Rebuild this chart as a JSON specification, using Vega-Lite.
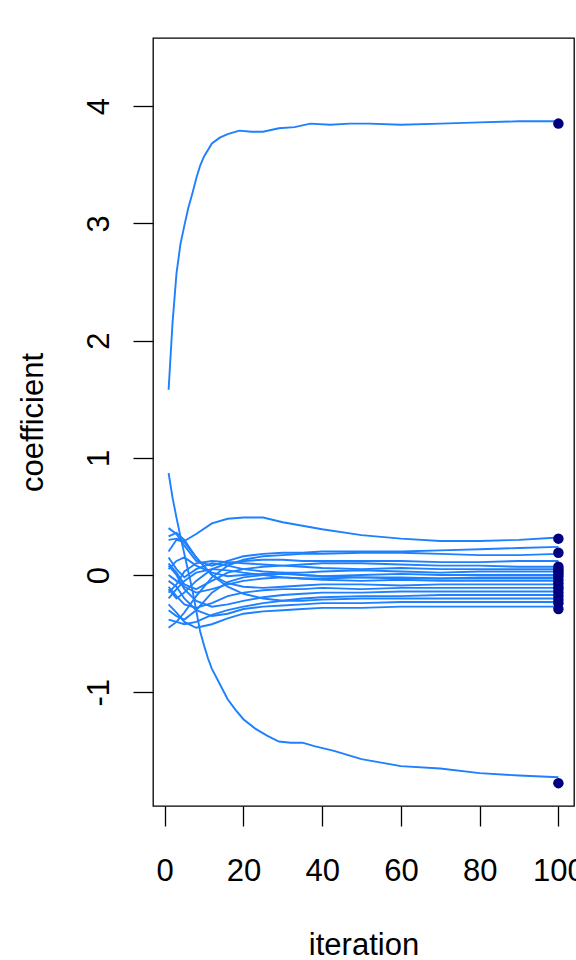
{
  "$schema": "https://vega.github.io/schema/vega-lite/v6.json",
  "autosize": {"type": "none"},
  "width": 421,
  "height": 768,
  "padding": {"left": 153, "top": 38, "right": 2, "bottom": 154},
  "background": "white",
  "config": {
    "view": {"stroke": "black", "strokeWidth": 1.3},
    "axis": {"domain": false, "grid": false, "tickColor": "black", "tickWidth": 1.3, "tickSize": 20,
      "labelFont": "Liberation Sans", "labelFontSize": 31, "labelColor": "black",
      "titleFont": "Liberation Sans", "titleFontSize": 31, "titleFontWeight": "normal", "titleColor": "black",
      "labelOverlap": false, "labelBound": false, "labelFlush": false}
  },
  "datasets": {
    "paths": [
      {"s":"A","x":1,"y":1.58},{"s":"A","x":2,"y":2.15},{"s":"A","x":3,"y":2.57},{"s":"A","x":4,"y":2.82},{"s":"A","x":5,"y":2.98},{"s":"A","x":6,"y":3.13},{"s":"A","x":7,"y":3.25},{"s":"A","x":8,"y":3.38},{"s":"A","x":9,"y":3.49},{"s":"A","x":10,"y":3.57},{"s":"A","x":12,"y":3.68},{"s":"A","x":14,"y":3.73},{"s":"A","x":16,"y":3.76},{"s":"A","x":19,"y":3.79},{"s":"A","x":22,"y":3.78},{"s":"A","x":25,"y":3.78},{"s":"A","x":29,"y":3.81},{"s":"A","x":33,"y":3.82},{"s":"A","x":37,"y":3.85},{"s":"A","x":42,"y":3.84},{"s":"A","x":47,"y":3.85},{"s":"A","x":52,"y":3.85},{"s":"A","x":60,"y":3.84},{"s":"A","x":70,"y":3.85},{"s":"A","x":80,"y":3.86},{"s":"A","x":90,"y":3.87},{"s":"A","x":100,"y":3.87},
      {"s":"B","x":1,"y":0.87},{"s":"B","x":2,"y":0.66},{"s":"B","x":3,"y":0.49},{"s":"B","x":4,"y":0.33},{"s":"B","x":5,"y":0.18},{"s":"B","x":6,"y":0.03},{"s":"B","x":7,"y":-0.12},{"s":"B","x":8,"y":-0.3},{"s":"B","x":9,"y":-0.48},{"s":"B","x":10,"y":-0.6},{"s":"B","x":11,"y":-0.71},{"s":"B","x":12,"y":-0.8},{"s":"B","x":14,"y":-0.93},{"s":"B","x":16,"y":-1.06},{"s":"B","x":18,"y":-1.15},{"s":"B","x":20,"y":-1.23},{"s":"B","x":23,"y":-1.31},{"s":"B","x":26,"y":-1.37},{"s":"B","x":29,"y":-1.42},{"s":"B","x":32,"y":-1.43},{"s":"B","x":35,"y":-1.43},{"s":"B","x":38,"y":-1.46},{"s":"B","x":43,"y":-1.5},{"s":"B","x":50,"y":-1.57},{"s":"B","x":55,"y":-1.6},{"s":"B","x":60,"y":-1.63},{"s":"B","x":70,"y":-1.65},{"s":"B","x":80,"y":-1.69},{"s":"B","x":90,"y":-1.71},{"s":"B","x":100,"y":-1.725},
      {"s":"C","x":1,"y":0.3},{"s":"C","x":3,"y":0.31},{"s":"C","x":5,"y":0.29},{"s":"C","x":8,"y":0.35},{"s":"C","x":12,"y":0.44},{"s":"C","x":16,"y":0.48},{"s":"C","x":20,"y":0.49},{"s":"C","x":25,"y":0.49},{"s":"C","x":30,"y":0.45},{"s":"C","x":35,"y":0.42},{"s":"C","x":40,"y":0.39},{"s":"C","x":50,"y":0.34},{"s":"C","x":60,"y":0.31},{"s":"C","x":70,"y":0.29},{"s":"C","x":80,"y":0.29},{"s":"C","x":90,"y":0.3},{"s":"C","x":100,"y":0.32},
      {"s":"D","x":1,"y":0.4},{"s":"D","x":3,"y":0.35},{"s":"D","x":5,"y":0.25},{"s":"D","x":8,"y":0.12},{"s":"D","x":12,"y":0.08},{"s":"D","x":16,"y":0.12},{"s":"D","x":20,"y":0.16},{"s":"D","x":25,"y":0.18},{"s":"D","x":30,"y":0.19},{"s":"D","x":35,"y":0.19},{"s":"D","x":40,"y":0.2},{"s":"D","x":50,"y":0.2},{"s":"D","x":60,"y":0.2},{"s":"D","x":70,"y":0.21},{"s":"D","x":80,"y":0.22},{"s":"D","x":90,"y":0.23},{"s":"D","x":100,"y":0.24},
      {"s":"E","x":1,"y":-0.45},{"s":"E","x":3,"y":-0.4},{"s":"E","x":5,"y":-0.32},{"s":"E","x":8,"y":-0.18},{"s":"E","x":12,"y":-0.02},{"s":"E","x":16,"y":0.08},{"s":"E","x":20,"y":0.13},{"s":"E","x":25,"y":0.16},{"s":"E","x":30,"y":0.17},{"s":"E","x":35,"y":0.18},{"s":"E","x":40,"y":0.18},{"s":"E","x":50,"y":0.19},{"s":"E","x":60,"y":0.19},{"s":"E","x":70,"y":0.18},{"s":"E","x":80,"y":0.17},{"s":"E","x":90,"y":0.17},{"s":"E","x":100,"y":0.18},
      {"s":"F","x":1,"y":0.1},{"s":"F","x":3,"y":0.02},{"s":"F","x":5,"y":-0.08},{"s":"F","x":8,"y":-0.12},{"s":"F","x":12,"y":-0.05},{"s":"F","x":16,"y":0.02},{"s":"F","x":20,"y":0.05},{"s":"F","x":25,"y":0.07},{"s":"F","x":30,"y":0.08},{"s":"F","x":35,"y":0.09},{"s":"F","x":40,"y":0.1},{"s":"F","x":50,"y":0.1},{"s":"F","x":60,"y":0.09},{"s":"F","x":70,"y":0.08},{"s":"F","x":80,"y":0.08},{"s":"F","x":90,"y":0.07},{"s":"F","x":100,"y":0.07},
      {"s":"G","x":1,"y":-0.15},{"s":"G","x":3,"y":-0.08},{"s":"G","x":5,"y":0.03},{"s":"G","x":8,"y":0.1},{"s":"G","x":12,"y":0.12},{"s":"G","x":16,"y":0.11},{"s":"G","x":20,"y":0.1},{"s":"G","x":25,"y":0.09},{"s":"G","x":30,"y":0.08},{"s":"G","x":35,"y":0.07},{"s":"G","x":40,"y":0.06},{"s":"G","x":50,"y":0.05},{"s":"G","x":60,"y":0.06},{"s":"G","x":70,"y":0.05},{"s":"G","x":80,"y":0.05},{"s":"G","x":90,"y":0.05},{"s":"G","x":100,"y":0.05},
      {"s":"H","x":1,"y":0.05},{"s":"H","x":3,"y":0.12},{"s":"H","x":5,"y":0.15},{"s":"H","x":8,"y":0.08},{"s":"H","x":12,"y":0.02},{"s":"H","x":16,"y":-0.01},{"s":"H","x":20,"y":0.0},{"s":"H","x":25,"y":0.01},{"s":"H","x":30,"y":0.02},{"s":"H","x":35,"y":0.02},{"s":"H","x":40,"y":0.03},{"s":"H","x":50,"y":0.04},{"s":"H","x":60,"y":0.03},{"s":"H","x":70,"y":0.02},{"s":"H","x":80,"y":0.03},{"s":"H","x":90,"y":0.03},{"s":"H","x":100,"y":0.03},
      {"s":"I","x":1,"y":-0.3},{"s":"I","x":3,"y":-0.35},{"s":"I","x":5,"y":-0.38},{"s":"I","x":8,"y":-0.3},{"s":"I","x":12,"y":-0.15},{"s":"I","x":16,"y":-0.06},{"s":"I","x":20,"y":-0.02},{"s":"I","x":25,"y":0.0},{"s":"I","x":30,"y":0.01},{"s":"I","x":35,"y":0.0},{"s":"I","x":40,"y":-0.01},{"s":"I","x":50,"y":0.0},{"s":"I","x":60,"y":0.01},{"s":"I","x":70,"y":0.0},{"s":"I","x":80,"y":0.0},{"s":"I","x":90,"y":0.0},{"s":"I","x":100,"y":0.0},
      {"s":"J","x":1,"y":0.0},{"s":"J","x":3,"y":-0.05},{"s":"J","x":5,"y":-0.1},{"s":"J","x":8,"y":-0.15},{"s":"J","x":12,"y":-0.12},{"s":"J","x":16,"y":-0.08},{"s":"J","x":20,"y":-0.05},{"s":"J","x":25,"y":-0.03},{"s":"J","x":30,"y":-0.02},{"s":"J","x":35,"y":-0.03},{"s":"J","x":40,"y":-0.03},{"s":"J","x":50,"y":-0.02},{"s":"J","x":60,"y":-0.03},{"s":"J","x":70,"y":-0.03},{"s":"J","x":80,"y":-0.02},{"s":"J","x":90,"y":-0.02},{"s":"J","x":100,"y":-0.02},
      {"s":"K","x":1,"y":-0.2},{"s":"K","x":3,"y":-0.12},{"s":"K","x":5,"y":-0.05},{"s":"K","x":8,"y":0.02},{"s":"K","x":12,"y":0.05},{"s":"K","x":16,"y":0.04},{"s":"K","x":20,"y":0.02},{"s":"K","x":25,"y":0.0},{"s":"K","x":30,"y":-0.02},{"s":"K","x":35,"y":-0.03},{"s":"K","x":40,"y":-0.04},{"s":"K","x":50,"y":-0.05},{"s":"K","x":60,"y":-0.04},{"s":"K","x":70,"y":-0.05},{"s":"K","x":80,"y":-0.05},{"s":"K","x":90,"y":-0.05},{"s":"K","x":100,"y":-0.05},
      {"s":"L","x":1,"y":0.2},{"s":"L","x":3,"y":0.3},{"s":"L","x":5,"y":0.28},{"s":"L","x":8,"y":0.15},{"s":"L","x":12,"y":0.0},{"s":"L","x":16,"y":-0.07},{"s":"L","x":20,"y":-0.1},{"s":"L","x":25,"y":-0.11},{"s":"L","x":30,"y":-0.1},{"s":"L","x":35,"y":-0.09},{"s":"L","x":40,"y":-0.08},{"s":"L","x":50,"y":-0.08},{"s":"L","x":60,"y":-0.09},{"s":"L","x":70,"y":-0.08},{"s":"L","x":80,"y":-0.08},{"s":"L","x":90,"y":-0.08},{"s":"L","x":100,"y":-0.08},
      {"s":"M","x":1,"y":-0.1},{"s":"M","x":3,"y":-0.18},{"s":"M","x":5,"y":-0.25},{"s":"M","x":8,"y":-0.28},{"s":"M","x":12,"y":-0.24},{"s":"M","x":16,"y":-0.18},{"s":"M","x":20,"y":-0.15},{"s":"M","x":25,"y":-0.13},{"s":"M","x":30,"y":-0.12},{"s":"M","x":35,"y":-0.12},{"s":"M","x":40,"y":-0.11},{"s":"M","x":50,"y":-0.12},{"s":"M","x":60,"y":-0.11},{"s":"M","x":70,"y":-0.11},{"s":"M","x":80,"y":-0.11},{"s":"M","x":90,"y":-0.11},{"s":"M","x":100,"y":-0.11},
      {"s":"N","x":1,"y":0.08},{"s":"N","x":3,"y":0.0},{"s":"N","x":5,"y":-0.12},{"s":"N","x":8,"y":-0.22},{"s":"N","x":12,"y":-0.27},{"s":"N","x":16,"y":-0.25},{"s":"N","x":20,"y":-0.22},{"s":"N","x":25,"y":-0.19},{"s":"N","x":30,"y":-0.17},{"s":"N","x":35,"y":-0.16},{"s":"N","x":40,"y":-0.15},{"s":"N","x":50,"y":-0.15},{"s":"N","x":60,"y":-0.14},{"s":"N","x":70,"y":-0.14},{"s":"N","x":80,"y":-0.14},{"s":"N","x":90,"y":-0.14},{"s":"N","x":100,"y":-0.14},
      {"s":"O","x":1,"y":-0.38},{"s":"O","x":3,"y":-0.4},{"s":"O","x":5,"y":-0.42},{"s":"O","x":8,"y":-0.4},{"s":"O","x":12,"y":-0.34},{"s":"O","x":16,"y":-0.3},{"s":"O","x":20,"y":-0.27},{"s":"O","x":25,"y":-0.24},{"s":"O","x":30,"y":-0.22},{"s":"O","x":35,"y":-0.2},{"s":"O","x":40,"y":-0.19},{"s":"O","x":50,"y":-0.18},{"s":"O","x":60,"y":-0.18},{"s":"O","x":70,"y":-0.17},{"s":"O","x":80,"y":-0.17},{"s":"O","x":90,"y":-0.17},{"s":"O","x":100,"y":-0.17},
      {"s":"P","x":1,"y":0.33},{"s":"P","x":3,"y":0.36},{"s":"P","x":5,"y":0.3},{"s":"P","x":8,"y":0.15},{"s":"P","x":12,"y":0.0},{"s":"P","x":16,"y":-0.1},{"s":"P","x":20,"y":-0.16},{"s":"P","x":25,"y":-0.2},{"s":"P","x":30,"y":-0.22},{"s":"P","x":35,"y":-0.22},{"s":"P","x":40,"y":-0.21},{"s":"P","x":50,"y":-0.2},{"s":"P","x":60,"y":-0.2},{"s":"P","x":70,"y":-0.2},{"s":"P","x":80,"y":-0.2},{"s":"P","x":90,"y":-0.2},{"s":"P","x":100,"y":-0.2},
      {"s":"Q","x":1,"y":-0.05},{"s":"Q","x":3,"y":-0.1},{"s":"Q","x":5,"y":-0.2},{"s":"Q","x":8,"y":-0.3},{"s":"Q","x":12,"y":-0.35},{"s":"Q","x":16,"y":-0.33},{"s":"Q","x":20,"y":-0.29},{"s":"Q","x":25,"y":-0.27},{"s":"Q","x":30,"y":-0.26},{"s":"Q","x":35,"y":-0.25},{"s":"Q","x":40,"y":-0.24},{"s":"Q","x":50,"y":-0.24},{"s":"Q","x":60,"y":-0.23},{"s":"Q","x":70,"y":-0.23},{"s":"Q","x":80,"y":-0.23},{"s":"Q","x":90,"y":-0.23},{"s":"Q","x":100,"y":-0.23},
      {"s":"R","x":1,"y":-0.25},{"s":"R","x":3,"y":-0.32},{"s":"R","x":5,"y":-0.4},{"s":"R","x":8,"y":-0.45},{"s":"R","x":12,"y":-0.42},{"s":"R","x":16,"y":-0.37},{"s":"R","x":20,"y":-0.33},{"s":"R","x":25,"y":-0.31},{"s":"R","x":30,"y":-0.3},{"s":"R","x":35,"y":-0.29},{"s":"R","x":40,"y":-0.28},{"s":"R","x":50,"y":-0.28},{"s":"R","x":60,"y":-0.27},{"s":"R","x":70,"y":-0.27},{"s":"R","x":80,"y":-0.27},{"s":"R","x":90,"y":-0.27},{"s":"R","x":100,"y":-0.27},
      {"s":"S","x":1,"y":0.15},{"s":"S","x":3,"y":0.05},{"s":"S","x":5,"y":-0.02},{"s":"S","x":8,"y":0.05},{"s":"S","x":12,"y":0.1},{"s":"S","x":16,"y":0.08},{"s":"S","x":20,"y":0.05},{"s":"S","x":25,"y":0.03},{"s":"S","x":30,"y":0.02},{"s":"S","x":35,"y":0.0},{"s":"S","x":40,"y":-0.01},{"s":"S","x":50,"y":-0.02},{"s":"S","x":60,"y":-0.02},{"s":"S","x":70,"y":-0.03},{"s":"S","x":80,"y":-0.03},{"s":"S","x":90,"y":-0.03},{"s":"S","x":100,"y":-0.03},
      {"s":"T","x":1,"y":-0.12},{"s":"T","x":3,"y":-0.2},{"s":"T","x":5,"y":-0.15},{"s":"T","x":8,"y":-0.05},{"s":"T","x":12,"y":0.05},{"s":"T","x":16,"y":0.1},{"s":"T","x":20,"y":0.12},{"s":"T","x":25,"y":0.13},{"s":"T","x":30,"y":0.13},{"s":"T","x":35,"y":0.12},{"s":"T","x":40,"y":0.12},{"s":"T","x":50,"y":0.12},{"s":"T","x":60,"y":0.12},{"s":"T","x":70,"y":0.11},{"s":"T","x":80,"y":0.11},{"s":"T","x":90,"y":0.12},{"s":"T","x":100,"y":0.12}
    ],
    "ends": [
      {"x":100,"y":3.85},{"x":100,"y":-1.775},{"x":100,"y":0.31},{"x":100,"y":0.19},{"x":100,"y":0.07},{"x":100,"y":0.05},{"x":100,"y":0.03},{"x":100,"y":0.01},{"x":100,"y":-0.01},{"x":100,"y":-0.04},{"x":100,"y":-0.07},{"x":100,"y":-0.1},{"x":100,"y":-0.12},{"x":100,"y":-0.15},{"x":100,"y":-0.18},{"x":100,"y":-0.21},{"x":100,"y":-0.24},{"x":100,"y":-0.29}
    ]
  },
  "encoding": {
    "x": {"field": "x", "type": "quantitative",
      "scale": {"domain": [-2.96, 103.96], "nice": false, "zero": false},
      "axis": {"values": [0, 20, 40, 60, 80, 100], "title": "iteration", "labelPadding": 30,
        "titleBaseline": "alphabetic", "titleY": 148}},
    "y": {"field": "y", "type": "quantitative",
      "scale": {"domain": [-1.97, 4.58], "nice": false, "zero": false},
      "axis": {"values": [-1, 0, 1, 2, 3, 4], "title": "coefficient", "labelAngle": -90,
        "labelAlign": "center", "labelBaseline": "alphabetic", "labelPadding": 25,
        "labelExpr": "datum.value + ''",
        "titleAngle": -90, "titleBaseline": "alphabetic", "titleX": -111}}
  },
  "layer": [
    {"data": {"name": "paths"},
     "mark": {"type": "line", "color": "#1E80FF", "strokeWidth": 1.9, "interpolate": "linear"},
     "encoding": {"detail": {"field": "s"}}},
    {"data": {"name": "ends"},
     "mark": {"type": "point", "filled": true, "color": "#00007F", "opacity": 1, "size": 110}}
  ]
}
